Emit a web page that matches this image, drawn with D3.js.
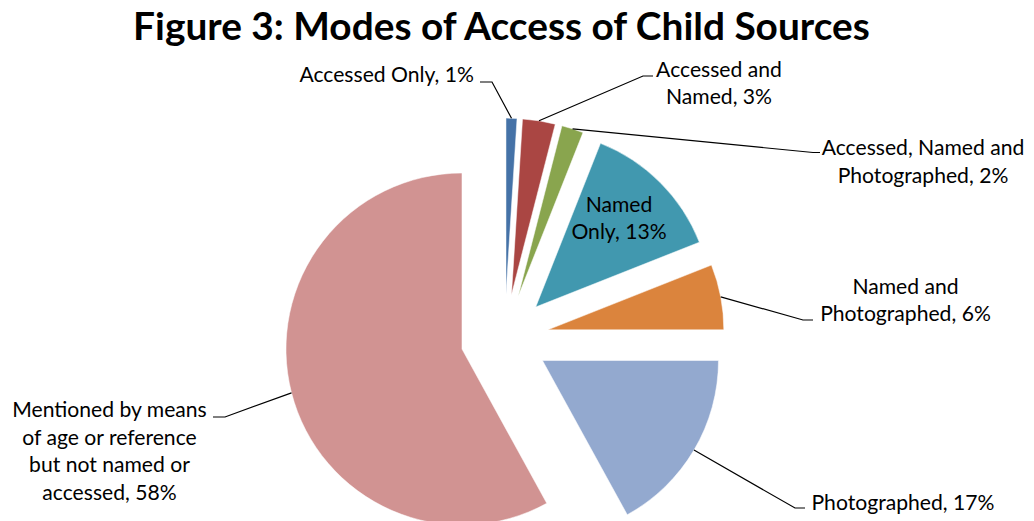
<!DOCTYPE html>
<html>
<head>
<meta charset="utf-8">
<script src="https://cdn.jsdelivr.net/npm/d3@7"></script>
<style>
  html, body { margin: 0; padding: 0; background: #fff; }
  svg { display: block; }
  text { font-family: Lato, "Open Sans", sans-serif; fill: #000; }
</style>
</head>
<body>
<svg id="chart" width="1034" height="521"></svg>
<script>
// Modes of access of child sources (share of sources, %)
const categories = [
  "Accessed Only",
  "Accessed and Named",
  "Accessed, Named and Photographed",
  "Named Only",
  "Named and Photographed",
  "Photographed",
  "Mentioned by means of age or reference but not named or accessed"
];
const values = [1, 3, 2, 13, 6, 17, 58];
const colors = ["#4572A7", "#AA4643", "#89A54E", "#4198AF", "#DB843D", "#93A9CF", "#D19392"];
const title = "Figure 3: Modes of Access of Child Sources";

// Label placement: words per line, first baseline, anchor and leader-line bend
const labelLayout = [
  { lines: [3],       x: 474,   y: 82,    anchor: "end",    elbow: [492, 82],    tail: [480, 82] },
  { lines: [2, 2],    x: 719,   y: 76.5,  anchor: "middle", elbow: [643, 76],    tail: [653, 76] },
  { lines: [3, 2],    x: 923,   y: 155,   anchor: "middle", elbow: [813, 152.5], tail: [820, 152.5] },
  { lines: [1, 2],    x: 619,   y: 211.5, anchor: "middle", inside: true },
  { lines: [2, 2],    x: 905.5, y: 293.5, anchor: "middle", elbow: [803, 320],   tail: [813, 320] },
  { lines: [2],       x: 811.5, y: 510,   anchor: "start",  elbow: [795, 508],   tail: [805, 508] },
  { lines: [3, 4, 4, 2], x: 109.5, y: 417, anchor: "middle", elbow: [225, 417],  tail: [213, 417] }
];

const svg = d3.select("#chart");
const cx = 504.6, cy = 338.1;   // pie centre
const radius = 176;
const explode = 44;
const lineHeight = 27.5;

// Title, sized to span its line
const titleText = svg.append("text")
  .attr("x", 501.5).attr("y", 40)
  .attr("text-anchor", "middle")
  .attr("font-weight", "bold")
  .attr("font-size", 33)
  .text(title);
const tw = titleText.node().getComputedTextLength();
titleText.attr("font-size", 33 * 737 / tw);

// Label font size from a reference string width
const probe = svg.append("text").attr("font-size", 20).text("Photographed, 17%");
const labelSize = 20 * 183 / probe.node().getComputedTextLength();
probe.remove();

const pie = d3.pie().sort(null).value(d => d)(values);
const arc = d3.arc().innerRadius(0).outerRadius(radius);

const g = svg.append("g").attr("transform", `translate(${cx},${cy})`);

function offset(d, r) {
  const a = (d.startAngle + d.endAngle) / 2;
  return [Math.sin(a) * r, -Math.cos(a) * r];
}

g.selectAll("path.slice")
  .data(pie)
  .join("path")
  .attr("class", "slice")
  .attr("d", arc)
  .attr("fill", (d, i) => colors[i])
  .attr("stroke", "#ffffff")
  .attr("stroke-opacity", 0.5)
  .attr("stroke-width", 1)
  .attr("transform", d => {
    const [ox, oy] = offset(d, explode);
    return `translate(${ox},${oy})`;
  });

// Leader lines from the middle of each slice's outer edge
pie.forEach((d, i) => {
  const L = labelLayout[i];
  if (L.inside) return;
  const [px, py] = offset(d, radius + explode);
  svg.append("polyline")
    .attr("points", [[cx + px, cy + py], L.elbow, L.tail].map(p => p.join(",")).join(" "))
    .attr("fill", "none")
    .attr("stroke", "#000")
    .attr("stroke-width", 1.2);
});

// Data labels: "name, value%" wrapped into lines
pie.forEach((d, i) => {
  const L = labelLayout[i];
  const words = `${categories[i]}, ${values[i]}%`.split(" ");
  const lines = [];
  let k = 0;
  L.lines.forEach(n => { lines.push(words.slice(k, k + n).join(" ")); k += n; });
  const t = svg.append("text")
    .attr("font-size", labelSize)
    .attr("text-anchor", L.anchor);
  lines.forEach((s, j) => {
    t.append("tspan")
      .attr("x", L.x)
      .attr("y", L.y + j * lineHeight)
      .text(s);
  });
});
</script>
</body>
</html>
